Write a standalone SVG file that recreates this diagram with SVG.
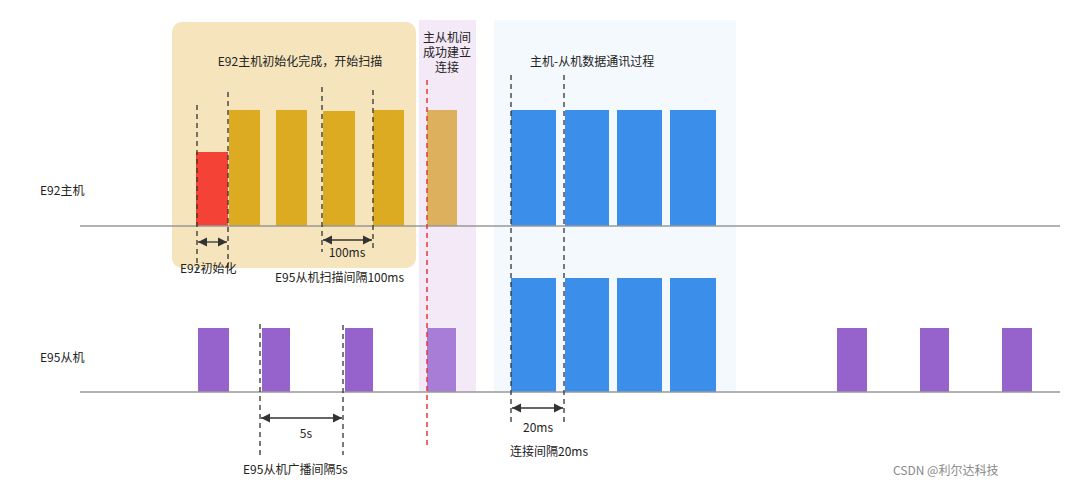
<svg xmlns="http://www.w3.org/2000/svg" width="1080" height="488" viewBox="0 0 1080 488">
<style>
text{font-family:"Noto Sans CJK SC","Liberation Sans",sans-serif;fill:#222;font-size:12px}
.d{stroke:#333;stroke-width:1.3;stroke-dasharray:5,4;fill:none}
.a{stroke:#333;stroke-width:1.3;fill:none;marker-start:url(#m);marker-end:url(#m)}
.g{fill:#dcab22}.b{fill:#3b8eea}.p{fill:#9663cc}
</style>
<defs><marker id="m" viewBox="0 0 10 10" refX="10" refY="5" markerWidth="7" markerHeight="7" orient="auto-start-reverse"><path d="M0,0L10,5L0,10z" fill="#333"/></marker></defs>
<rect width="1080" height="488" fill="#fff"/>
<g id="bg-init"><rect x="172" y="22" width="244" height="246" rx="10" fill="#f5e4bc"/></g>
<g id="bg-conn"><rect x="419" y="20" width="57" height="372" fill="#f4e9f6"/></g>
<g id="bg-data"><rect x="494" y="20" width="242" height="372" fill="#f4f9fe"/></g>
<g id="host">
<rect x="196" y="152" width="32" height="74" fill="#f44336"/>
<rect class="g" x="229" y="110" width="31" height="116"/>
<rect class="g" x="276" y="110" width="31" height="116"/>
<rect class="g" x="323" y="111" width="32" height="115"/>
<rect class="g" x="373" y="110" width="31" height="116"/>
<rect x="427" y="110" width="30" height="116" fill="#ddb05e"/>
<rect class="b" x="511" y="110" width="45" height="116"/>
<rect class="b" x="565" y="110" width="44" height="116"/>
<rect class="b" x="617" y="110" width="45" height="116"/>
<rect class="b" x="670" y="110" width="46" height="116"/>
</g>
<g id="slave">
<rect class="p" x="198" y="328" width="31" height="64"/>
<rect class="p" x="262" y="328" width="28" height="64"/>
<rect class="p" x="345" y="328" width="28" height="64"/>
<rect x="427" y="328" width="29" height="64" fill="#a87dd6"/>
<rect class="b" x="511" y="278" width="45" height="114"/>
<rect class="b" x="565" y="278" width="44" height="114"/>
<rect class="b" x="617" y="278" width="45" height="114"/>
<rect class="b" x="670" y="278" width="46" height="114"/>
<rect class="p" x="837" y="328" width="30" height="64"/>
<rect class="p" x="920" y="328" width="29" height="64"/>
<rect class="p" x="1002" y="328" width="30" height="64"/>
</g>
<g id="connectors">
<line x1="80" y1="226" x2="1060" y2="226" stroke="#999" stroke-width="1.5"/>
<line x1="80" y1="392" x2="1060" y2="392" stroke="#999" stroke-width="1.5"/>
<path class="d" d="M197,105V270M228,92V270M322,87V252M373,90V252M511,75V425M564,75V425M260,324V455M343,325V455"/>
<line x1="427" y1="80" x2="427" y2="446" stroke="#e53935" stroke-width="1.5" stroke-dasharray="5,4"/>
<line class="a" x1="198" y1="242" x2="227" y2="242"/>
<line class="a" x1="323" y1="240" x2="372" y2="240"/>
<line class="a" x1="261" y1="418" x2="342" y2="418"/>
<line class="a" x1="512" y1="408" x2="563" y2="408"/>
</g>
<g id="labels">
<text x="40" y="195" font-size="14">E92主机</text>
<text x="40" y="362" font-size="14">E95从机</text>
<text x="300" y="66" text-anchor="middle">E92主机初始化完成，开始扫描</text>
<text x="447" y="42" text-anchor="middle" font-size="11">主从机间</text>
<text x="447" y="57" text-anchor="middle" font-size="11">成功建立</text>
<text x="447" y="72" text-anchor="middle" font-size="11">连接</text>
<text x="530" y="66" font-size="13">主机-从机数据通讯过程</text>
<text x="347" y="257" text-anchor="middle">100ms</text>
<text x="180" y="273" font-size="13">E92初始化</text>
<text x="275" y="282">E95从机扫描间隔100ms</text>
<text x="306" y="438" text-anchor="middle">5s</text>
<text x="243" y="474">E95从机广播间隔5s</text>
<text x="538" y="432" text-anchor="middle">20ms</text>
<text x="510" y="456">连接间隔20ms</text>
<text x="893" y="475" font-size="15" fill="#888" style="fill:#888">CSDN @利尔达科技</text>
</g>
</svg>
